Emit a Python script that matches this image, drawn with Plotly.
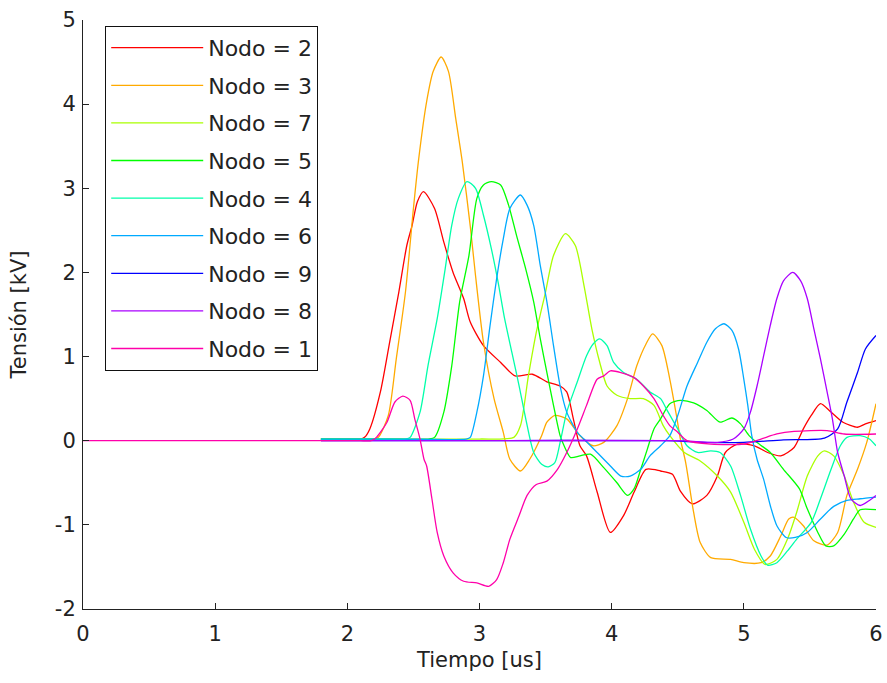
import plotly.graph_objects as go

# ---- data (time in us, voltage in kV) ----
names = ["Nodo = 2", "Nodo = 3", "Nodo = 7", "Nodo = 5", "Nodo = 4",
         "Nodo = 6", "Nodo = 9", "Nodo = 8", "Nodo = 1"]
colors = ["#ff0000", "#ffaa00", "#aaff00", "#00ff00", "#00ffaa",
          "#00aaff", "#0000ff", "#aa00ff", "#ff00aa"]

t_n2 = [1.80, 2.00, 2.10, 2.13, 2.17, 2.25, 2.32, 2.39, 2.45, 2.49, 2.53, 2.576, 2.66, 2.73, 2.80, 2.88, 2.93,
        3.03, 3.16, 3.27, 3.40, 3.51, 3.61, 3.66, 3.71, 3.76, 3.81, 3.89, 3.99, 4.09, 4.17, 4.26,
        4.37, 4.46, 4.52, 4.61, 4.72, 4.80, 4.86, 4.95, 5.08, 5.18, 5.28, 5.38, 5.45, 5.51, 5.58,
        5.66, 5.75, 5.86, 5.92, 6.00]
v_n2 = [0.02, 0.02, 0.02, 0.04, 0.14, 0.58, 1.17, 1.77, 2.32, 2.56, 2.84, 2.96, 2.76, 2.36, 2.00, 1.69, 1.41,
        1.13, 0.93, 0.77, 0.79, 0.70, 0.65, 0.58, 0.26, -0.06, -0.18, -0.61, -1.09, -0.89, -0.61, -0.34,
        -0.36, -0.40, -0.60, -0.75, -0.65, -0.42, -0.14, -0.04, -0.06, -0.14, -0.18, -0.08, 0.14, 0.30, 0.44,
        0.34, 0.22, 0.16, 0.20, 0.24]

t_n3 = [1.80, 2.00, 2.20, 2.235, 2.31, 2.37, 2.44, 2.50, 2.54, 2.60, 2.65, 2.71, 2.765, 2.82, 2.87, 2.93,
        2.97, 3.03, 3.11, 3.18, 3.23, 3.31, 3.38, 3.47, 3.51, 3.57, 3.66, 3.76, 3.86, 3.94, 4.04,
        4.12, 4.19, 4.26, 4.31, 4.38, 4.44, 4.49, 4.52, 4.56, 4.62, 4.67, 4.75, 4.90, 5.00, 5.13,
        5.20, 5.28, 5.34, 5.38, 5.45, 5.53, 5.63, 5.71, 5.78, 5.86, 5.93, 6.00]
v_n3 = [0.02, 0.02, 0.02, 0.04, 0.30, 0.97, 1.77, 2.76, 3.35, 4.03, 4.39, 4.56, 4.39, 3.83, 3.31, 2.55,
        1.96, 1.17, 0.50, 0.10, -0.22, -0.36, -0.22, 0.06, 0.22, 0.30, 0.26, 0.06, -0.06, -0.02, 0.18,
        0.50, 0.89, 1.15, 1.27, 1.13, 0.73, 0.30, 0.02, -0.26, -0.85, -1.21, -1.39, -1.41, -1.45, -1.45,
        -1.37, -1.13, -0.93, -0.91, -1.01, -1.19, -1.24, -1.09, -0.65, -0.34, -0.02, 0.44]

t_n7 = [1.80, 2.50, 3.00, 3.26, 3.31, 3.37, 3.43, 3.50, 3.56, 3.65, 3.725, 3.79, 3.85, 3.91, 3.965, 4.04, 4.14,
        4.24, 4.32, 4.39, 4.44, 4.55, 4.67, 4.80, 4.90, 5.00, 5.08, 5.16, 5.25, 5.33, 5.40, 5.48,
        5.56, 5.61, 5.68, 5.76, 5.83, 5.91, 6.00]
v_n7 = [0.02, 0.02, 0.02, 0.04, 0.18, 0.77, 1.29, 1.77, 2.20, 2.46, 2.32, 1.85, 1.33, 0.93, 0.65, 0.54, 0.50,
        0.50, 0.42, 0.18, 0.06, -0.14, -0.24, -0.42, -0.61, -0.97, -1.29, -1.47, -1.41, -1.17, -0.85, -0.42,
        -0.18, -0.12, -0.18, -0.42, -0.73, -0.97, -1.03]

t_n5 = [1.80, 2.30, 2.62, 2.66, 2.73, 2.79, 2.85, 2.92, 2.98, 3.03, 3.09, 3.16, 3.22, 3.28, 3.35, 3.41,
        3.46, 3.51, 3.56, 3.61, 3.64, 3.69, 3.76, 3.84, 3.94, 4.04, 4.12, 4.17, 4.22, 4.27, 4.32,
        4.37, 4.44, 4.52, 4.62, 4.72, 4.82, 4.91, 4.975, 5.04, 5.09, 5.20, 5.30, 5.42, 5.48, 5.56,
        5.62, 5.68, 5.76, 5.83, 5.88, 6.00]
v_n5 = [0.02, 0.02, 0.02, 0.04, 0.34, 0.89, 1.65, 2.20, 2.88, 3.04, 3.08, 3.04, 2.80, 2.44, 2.04, 1.65,
        1.21, 0.81, 0.42, 0.06, -0.06, -0.20, -0.18, -0.16, -0.32, -0.50, -0.65, -0.57, -0.34, -0.10, 0.14,
        0.26, 0.44, 0.48, 0.45, 0.36, 0.22, 0.27, 0.20, 0.06, -0.01, -0.14, -0.34, -0.57, -0.81, -1.09,
        -1.25, -1.25, -1.11, -0.93, -0.82, -0.82]

t_n4 = [1.80, 2.20, 2.44, 2.475, 2.55, 2.61, 2.68, 2.74, 2.79, 2.84, 2.905, 2.97, 3.03, 3.09, 3.14, 3.19,
        3.245, 3.30, 3.35, 3.41, 3.47, 3.52, 3.57, 3.61, 3.66, 3.74, 3.81, 3.86, 3.91, 3.965, 4.015,
        4.09, 4.19, 4.29, 4.37, 4.42, 4.50, 4.57, 4.65, 4.75, 4.82, 4.90, 4.975, 5.05, 5.13, 5.18,
        5.25, 5.33, 5.40, 5.51, 5.58, 5.66, 5.73, 5.78, 5.88, 5.95, 6.00]
v_n4 = [0.02, 0.02, 0.02, 0.04, 0.34, 0.89, 1.45, 2.04, 2.56, 2.88, 3.08, 3.00, 2.68, 2.28, 1.89, 1.45,
        1.05, 0.65, 0.26, -0.14, -0.28, -0.31, -0.26, -0.02, 0.34, 0.70, 1.01, 1.15, 1.21, 1.13, 0.93,
        0.81, 0.73, 0.58, 0.50, 0.36, 0.14, -0.06, -0.14, -0.12, -0.14, -0.30, -0.65, -1.05, -1.37, -1.48,
        -1.45, -1.31, -1.17, -0.97, -0.69, -0.34, -0.06, 0.04, 0.06, 0.02, -0.06]

t_n6 = [1.80, 2.40, 2.90, 2.93, 2.98, 3.03, 3.08, 3.13, 3.18, 3.23, 3.31, 3.36, 3.41, 3.46, 3.51, 3.56,
        3.61, 3.66, 3.74, 3.79, 3.89, 3.99, 4.07, 4.14, 4.22, 4.29, 4.37, 4.44, 4.50, 4.57, 4.65,
        4.72, 4.785, 4.85, 4.91, 4.96, 5.00, 5.03, 5.06, 5.10, 5.15, 5.20, 5.25, 5.32, 5.39, 5.48,
        5.58, 5.68, 5.78, 5.88, 6.00]
v_n6 = [0.02, 0.02, 0.02, 0.04, 0.34, 0.77, 1.37, 1.93, 2.40, 2.76, 2.92, 2.80, 2.56, 2.08, 1.65, 1.13,
        0.65, 0.34, 0.10, 0.02, -0.14, -0.30, -0.42, -0.42, -0.34, -0.18, -0.06, 0.06, 0.30, 0.65, 0.93,
        1.17, 1.33, 1.39, 1.31, 1.09, 0.73, 0.42, 0.06, -0.22, -0.46, -0.77, -1.01, -1.15, -1.15, -1.09,
        -0.93, -0.78, -0.71, -0.69, -0.67]

t_n9 = [1.80, 3.00, 4.40, 4.70, 5.00, 5.30, 5.61, 5.71, 5.78, 5.86, 5.92, 6.00]
v_n9 = [0.00, 0.00, 0.00, -0.02, -0.02, 0.01, 0.03, 0.14, 0.46, 0.81, 1.09, 1.25]

t_n8 = [1.80, 3.00, 4.50, 4.80, 4.92, 5.00, 5.05, 5.10, 5.15, 5.20, 5.25, 5.30, 5.37, 5.43, 5.48, 5.53,
        5.58, 5.63, 5.67, 5.71, 5.76, 5.81, 5.88, 5.95, 6.00]
v_n8 = [0.00, 0.00, 0.00, -0.02, 0.02, 0.14, 0.34, 0.65, 1.01, 1.37, 1.69, 1.90, 2.00, 1.90, 1.69, 1.33,
        0.97, 0.58, 0.26, -0.14, -0.42, -0.69, -0.77, -0.71, -0.65]

t_n1 = [0.00, 0.50, 1.00, 1.50, 2.00, 2.10, 2.18, 2.22, 2.30, 2.36, 2.42, 2.475, 2.51, 2.55, 2.58, 2.60, 2.64,
        2.68, 2.73, 2.80, 2.88, 2.98, 3.07, 3.13, 3.18, 3.23, 3.30, 3.36, 3.43, 3.51, 3.59, 3.66, 3.74,
        3.81, 3.89, 3.94, 3.99, 4.07, 4.17, 4.24, 4.32, 4.39, 4.44, 4.50, 4.57, 4.75, 5.00, 5.13, 5.25,
        5.38, 5.63, 5.76, 6.00]
v_n1 = [0.00, 0.00, 0.00, 0.00, 0.00, 0.00, 0.00, 0.04, 0.22, 0.46, 0.53, 0.48, 0.26, 0.02, -0.22, -0.30, -0.69,
        -1.09, -1.37, -1.57, -1.67, -1.69, -1.73, -1.65, -1.45, -1.17, -0.89, -0.65, -0.52, -0.48, -0.34, -0.14, 0.14,
        0.42, 0.73, 0.77, 0.83, 0.81, 0.75, 0.65, 0.50, 0.30, 0.18, 0.10, 0.00, -0.04, -0.04, 0.02, 0.08,
        0.11, 0.12, 0.08, 0.08]

times = [t_n2, t_n3, t_n7, t_n5, t_n4, t_n6, t_n9, t_n8, t_n1]
values = [v_n2, v_n3, v_n7, v_n5, v_n4, v_n6, v_n9, v_n8, v_n1]

x_ticks = [0, 1, 2, 3, 4, 5, 6]
y_ticks = [-2, -1, 0, 1, 2, 3, 4, 5]

FONT = "DejaVu Sans, Verdana, sans-serif"
FS = 21
TXT = "#222"

fig = go.Figure()
for i, (nm, c, tx, vy) in enumerate(zip(names, colors, times, values)):
    fig.add_trace(go.Scatter(
        x=tx, y=vy, mode="lines", name=nm, legendgroup=f"g{i}",
        line=dict(color=c, width=1.3, shape="spline", smoothing=0.7),
    ))

axis_common = dict(
    showline=True, linecolor="#222", linewidth=1,
    ticks="inside", ticklen=6, tickwidth=1, tickcolor="#222",
    showgrid=False, zeroline=False, mirror=False, automargin=False,
    tickfont=dict(family=FONT, size=FS, color=TXT),
)

fig.update_layout(
    width=887, height=683,
    margin=dict(l=83, r=11, t=20, b=74),
    paper_bgcolor="white", plot_bgcolor="white",
    xaxis=dict(range=[0, 6], tickvals=x_ticks, ticktext=[str(v) for v in x_ticks],
               ticklabelstandoff=6,
               title=dict(text="Tiempo [us]", font=dict(family=FONT, size=FS, color=TXT), standoff=7),
               **axis_common),
    yaxis=dict(range=[-2, 5], tickvals=y_ticks, ticktext=[str(v) for v in y_ticks],
               ticklabelstandoff=2,
               title=dict(text="Tensión [kV]", font=dict(family=FONT, size=FS, color=TXT), standoff=22),
               **axis_common),
    legend=dict(
        x=0.028, y=0.99, xanchor="left", yanchor="top",
        bgcolor="white", bordercolor="#111", borderwidth=1,
        font=dict(family=FONT, size=22, color=TXT),
        tracegroupgap=6, itemwidth=92, traceorder="grouped",
    ),
    showlegend=True,
)

fig.write_html("out.html")
